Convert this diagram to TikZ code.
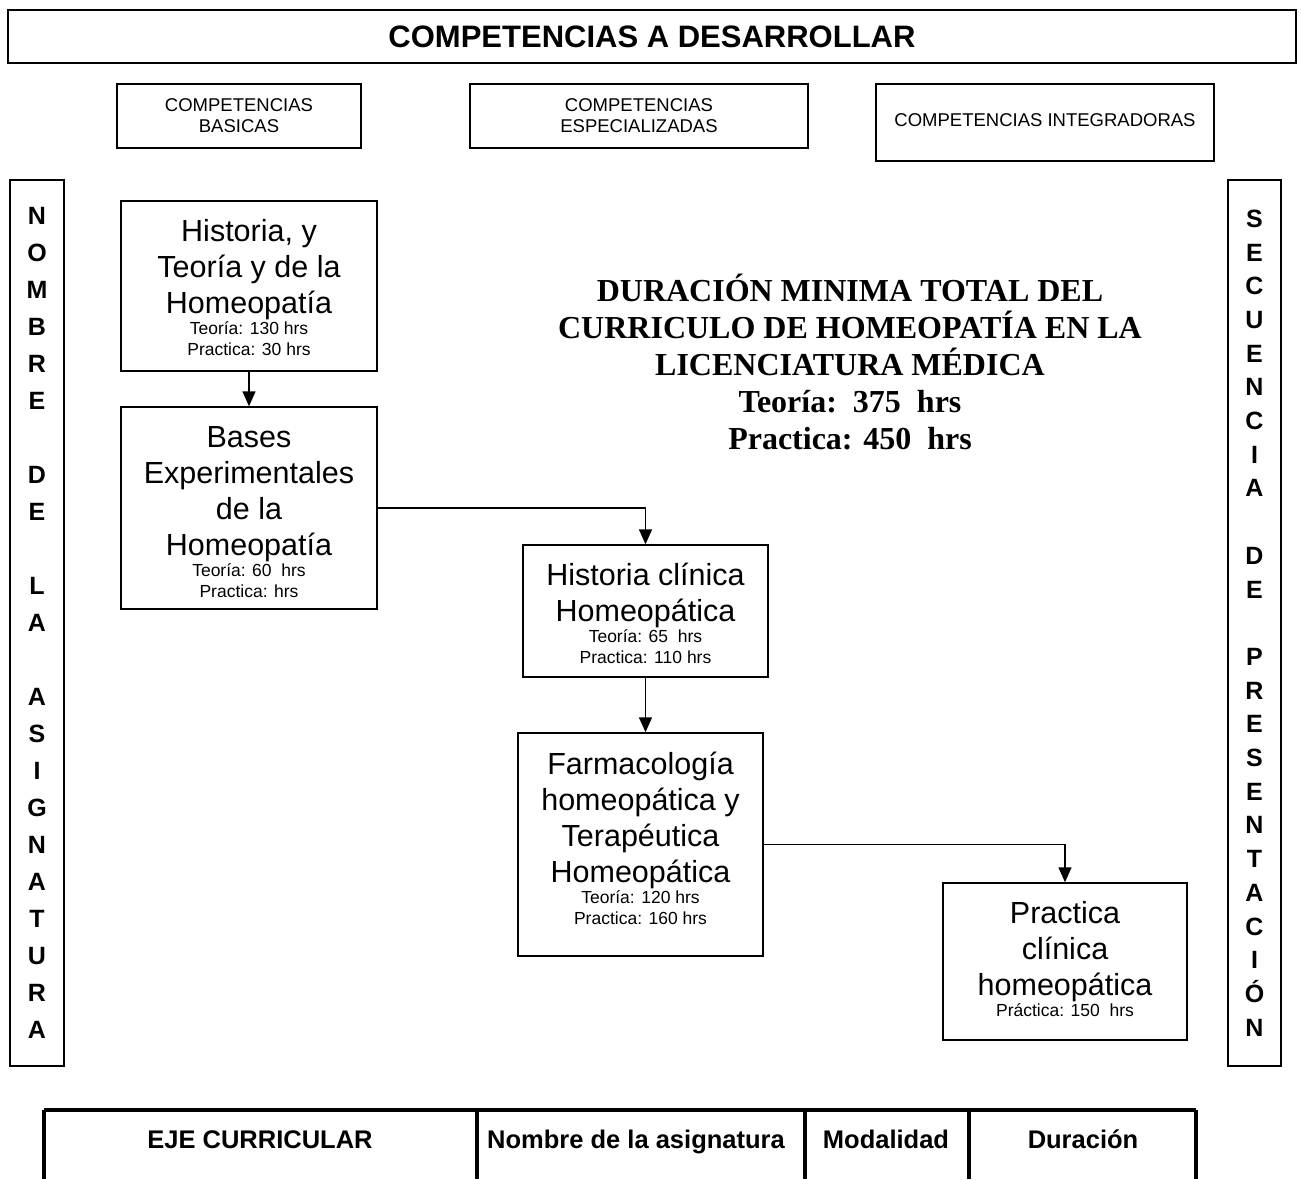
\documentclass[tikz,border=0pt]{standalone}
\usepackage{fontspec}
\setmainfont{Liberation Sans}
\newfontfamily\serifbf{Liberation Serif}
\usetikzlibrary{arrows.meta}
\newcommand\bigtx{\fontsize{30.5}{36}\selectfont}
\newcommand\smalltx{\fontsize{17.5}{21}\selectfont}
\begin{document}
\begin{tikzpicture}[x=1pt,y=-1pt,
  frame/.style={draw, line width=1.5pt, inner sep=0pt},
  arr/.style={line width=1.5pt, -{Triangle[length=15pt,width=13pt]}},
  comp/.style={frame, align=center, font=\fontsize{18.5}{21}\selectfont},
  vert/.style={frame, align=center, font=\bfseries\fontsize{25}{37}\selectfont, minimum height=886pt},
  tbl/.style={line width=3.5pt},
  head/.style={anchor=base, font=\bfseries\fontsize{25.5}{30}\selectfont}
]
\useasboundingbox (0,0) rectangle (1301,1179);

% header
\node[frame, line width=2pt, minimum width=1288pt, minimum height=53pt,
      font=\bfseries\fontsize{31}{36}\selectfont] (hdr) at (652,36.5) {COMPETENCIAS A DESARROLLAR};

% competencias
\node[comp, minimum width=244pt, minimum height=64pt] (cb) at (239,116) {COMPETENCIAS\\BASICAS};
\node[comp, minimum width=338pt, minimum height=64pt] (ce) at (639,116) {COMPETENCIAS\\ESPECIALIZADAS};
\node[comp, minimum width=338pt, minimum height=77pt] (ci) at (1045,122.5) {\raisebox{4pt}{COMPETENCIAS INTEGRADORAS}};

% vertical side columns
\node[vert, minimum width=54pt] (lv) at (37,623) {N\\O\\M\\B\\R\\E\\\mbox{}\\D\\E\\\mbox{}\\L\\A\\\mbox{}\\A\\S\\I\\G\\N\\A\\T\\U\\R\\A};
\node[vert, minimum width=53pt, font=\bfseries\fontsize{25}{33.7}\selectfont] (rv) at (1254.5,623) {S\\E\\C\\U\\E\\N\\C\\I\\A\\\mbox{}\\D\\E\\\mbox{}\\P\\R\\E\\S\\E\\N\\T\\A\\C\\I\\Ó\\N};

% subject boxes
\node[frame] (b1) at (249,286) {\parbox[c][170pt][t]{256pt}{\centering\bigtx\rule{0pt}{40pt}Historia, y\\Teoría y de la\\Homeopatía\par\smalltx Teoría: 130 hrs\\Practica: 30 hrs}};
\node[frame] (b2) at (249,508) {\parbox[c][202pt][t]{256pt}{\centering\bigtx\rule{0pt}{40pt}Bases\\Experimentales\\de la\\Homeopatía\par\smalltx Teoría: 60\ \ hrs\\Practica: hrs}};
\node[frame] (b3) at (645.5,611) {\parbox[c][132pt][t]{245pt}{\centering\bigtx\rule{0pt}{40pt}Historia clínica\\Homeopática\par\smalltx Teoría: 65\ \ hrs\\Practica: 110 hrs}};
\node[frame] (b4) at (640.5,844.5) {\parbox[c][223pt][t]{245pt}{\centering\bigtx\rule{0pt}{41pt}Farmacología\\homeopática y\\Terapéutica\\Homeopática\par\smalltx Teoría: 120 hrs\\Practica: 160 hrs}};
\node[frame] (b5) at (1065,961.5) {\parbox[c][157pt][t]{244pt}{\centering\bigtx\rule{0pt}{40pt}Practica\\clínica\\homeopática\par\smalltx Práctica: 150\ \ hrs}};

% arrows
\draw[arr] (b1.south) -- (b2.north);
\draw[arr] (b2.east) -| (b3.north);
\draw[arr] (b3.south) -- (b3.south |- b4.north);
\draw[arr] (b4.east) -| (b5.north);

% total duration
\node[align=center, font=\serifbf\bfseries\fontsize{32}{37}\selectfont] (tot) at (850,362)
  {DURACIÓN MINIMA TOTAL DEL\\CURRICULO DE HOMEOPATÍA EN LA\\LICENCIATURA MÉDICA\\Teoría:\ \ 375\ \ hrs\\Practica: 450\ \ hrs};

% bottom table header
\coordinate (t0) at (44,1110);
\coordinate (t1) at (477,1110);
\coordinate (t2) at (805,1110);
\coordinate (t3) at (969,1110);
\coordinate (t4) at (1196,1110);
\draw[tbl] (t0) -- (t4);
\foreach \c in {t0,t1,t2,t3,t4} \draw[tbl] (\c) -- (\c |- 0,1179);
\node[head] (h1) at (260,1148) {EJE CURRICULAR};
\node[head] (h2) at (636,1148) {Nombre de la asignatura};
\node[head] (h3) at (886,1148) {Modalidad};
\node[head] (h4) at (1083,1148) {Duración};
\end{tikzpicture}
\end{document}
